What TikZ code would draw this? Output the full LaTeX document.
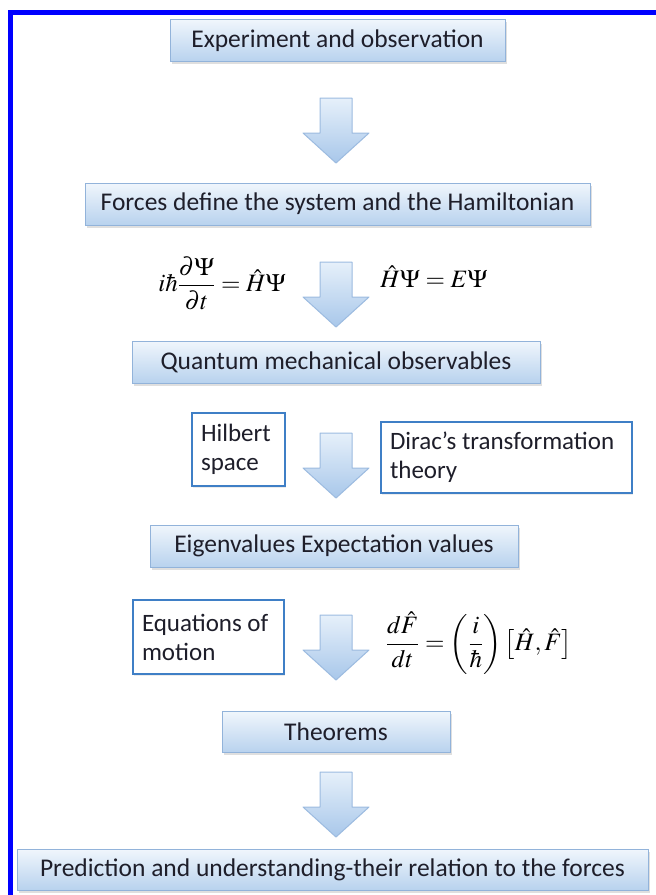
\documentclass[tikz,border=0pt]{standalone}
\usepackage{amsmath}
\usepackage{mathptmx}
\usepackage{fontspec}
\setmainfont{Carlito}
\usetikzlibrary{shadows}

\definecolor{frameblue}{HTML}{0000FF}
\definecolor{boxtop}{HTML}{F0F6FC}
\definecolor{boxbottom}{HTML}{B8D2EE}
\definecolor{boxline}{HTML}{92B3DA}
\definecolor{notebline}{HTML}{3F7FC6}
\definecolor{arrowtop}{HTML}{E6F0FA}
\definecolor{arrowbottom}{HTML}{A8C7EA}
\definecolor{arrowline}{HTML}{9CBBE0}
\definecolor{textdark}{HTML}{1E1E2A}

\begin{document}
\begin{tikzpicture}[x=1pt,y=-1pt]

% --- Styles ---
\tikzset{
    stepbox/.style={draw=boxline, line width=1pt, top color=boxtop, bottom color=boxbottom,
        minimum height=42pt, inner sep=0pt, text=textdark,
        font=\fontsize{25.5}{30}\selectfont,
        drop shadow={opacity=0.25, shadow xshift=1.5pt, shadow yshift=-2.5pt}},
    notebox/.style={draw=notebline, line width=1.6pt, fill=white, align=flush left,
        inner xsep=9pt, text=textdark, anchor=center,
        font=\fontsize{25}{29}\selectfont,
        drop shadow={opacity=0.15, shadow xshift=1pt, shadow yshift=-1.5pt}},
    formula/.style={inner sep=0pt, font=\fontsize{25}{30}\selectfont},
    downarrow/.pic={
        \shade[top color=arrowtop, bottom color=arrowbottom, draw=arrowline, line width=1pt,
            line join=round]
            (-16,0) -- (16,0) -- (16,35) -- (33,35) -- (0,65) -- (-33,35) -- (-16,35) -- cycle;
    }
}

% Page and frame
\useasboundingbox (0,0) rectangle (656,895);
\clip (0,0) rectangle (656,895);
\fill[white] (0,0) rectangle (656,895);
\draw[frameblue, line width=5pt] (10.5,905) -- (10.5,12.5) -- (665,12.5);

% Main chain of boxes
\node[stepbox, minimum width=335pt] (expt)   at (337.5,40.5) {Experiment and observation};
\node[stepbox, minimum width=505pt] (forces) at (337.5,204)  {Forces define the system and the Hamiltonian};
\node[stepbox, minimum width=408pt] (obs)    at (336,362)    {Quantum mechanical observables};
\node[stepbox, minimum width=368pt] (eigen)  at (334,546)    {Eigenvalues Expectation values};
\node[stepbox, minimum width=228pt, minimum height=41pt] (thm) at (336,732) {Theorems};
\node[stepbox, minimum width=631pt, minimum height=41pt] (pred) at (332.5,869.5)
    {Prediction and understanding-their relation to the forces};

% Block arrows between the boxes
\pic at (336,98)  {downarrow};
\pic at (336,262) {downarrow};
\pic at (336,433) {downarrow};
\pic at (336,615) {downarrow};
\pic at (336,772) {downarrow};

% Side notes and formulas
\node[formula] (schr) at (222,283) {$\displaystyle i\hbar\frac{\partial\Psi}{\partial t}=\hat{H}\Psi$};
\node[formula] (stat) at (434,277) {$\hat{H}\Psi=E\Psi$};

\node[notebox, minimum width=93pt, minimum height=73pt, text width=75pt] (hilbert) at (238.5,449.5)
    {Hilbert\\space};
\node[notebox, minimum width=251pt, minimum height=71pt, text width=233pt] (dirac) at (506.5,457.5)
    {Dirac’s transformation\\theory};

\node[notebox, minimum width=151pt, minimum height=74pt, text width=133pt] (motion) at (208.5,637)
    {Equations of\\motion};
\node[formula] (heis) at (479,643)
    {$\displaystyle\frac{d\hat{F}}{dt}=\left(\frac{i}{\hbar}\right)\left[\hat{H},\hat{F}\right]$};

\end{tikzpicture}
\end{document}
